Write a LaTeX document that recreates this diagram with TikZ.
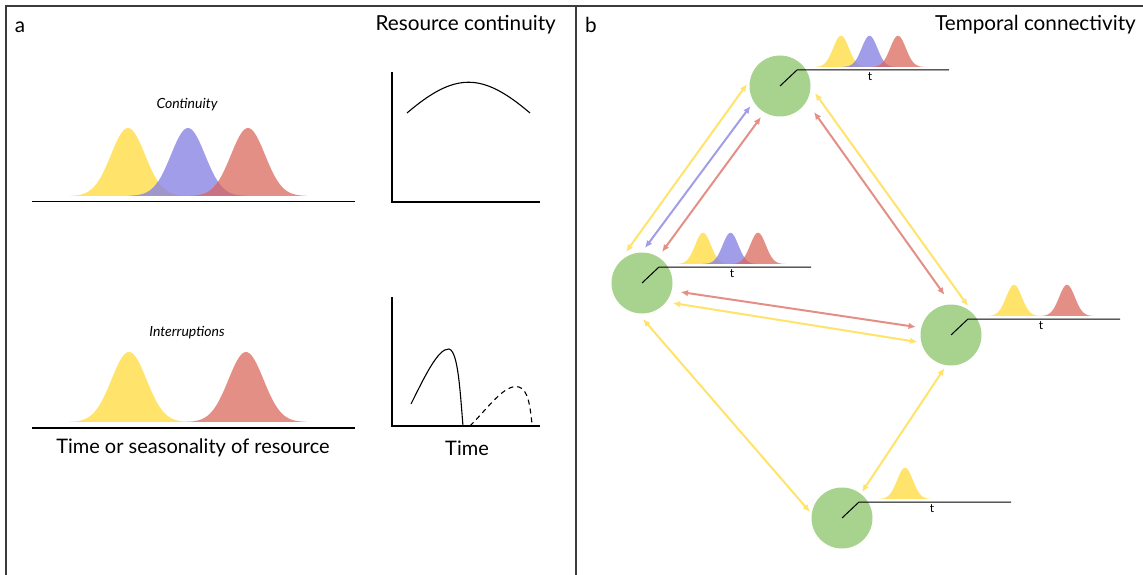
\documentclass[tikz,border=0pt]{standalone}
\usepackage{fontspec}
\setmainfont{Lato}
\usetikzlibrary{arrows.meta,calc}
\definecolor{yel}{RGB}{255,227,107}
\definecolor{blu}{RGB}{162,157,232}
\definecolor{rdd}{RGB}{228,143,134}
\definecolor{ovyb}{RGB}{160,150,200}
\definecolor{ovbr}{RGB}{201,114,130}
\definecolor{grn}{RGB}{168,211,143}
\definecolor{frame}{RGB}{60,60,60}
\newcommand\bump[5]{%
  \fill[#4, fill opacity=#5] plot[domain=-3.5:3.5, samples=60, smooth]
    ({#1+#3*17*\x},{#2-#3*68*exp(-(\x)*(\x)/2)}) -- cycle;}
\newcommand\bumpclip[3]{%
  \clip plot[domain=-3.5:3.5, samples=60, smooth]
    ({#1+#3*17*\x},{#2-#3*68*exp(-(\x)*(\x)/2)}) -- cycle;}
% three overlapping bumps: first centre, base, scale, spacing
\newcommand\trio[4]{%
  \bump{#1}{#2}{#3}{yel}{1}
  \bump{#1+#4}{#2}{#3}{blu}{1}
  \bump{#1+2*#4}{#2}{#3}{rdd}{1}
  \begin{scope}\bumpclip{#1}{#2}{#3}\bump{#1+#4}{#2}{#3}{ovyb}{1}\end{scope}
  \begin{scope}\bumpclip{#1+#4}{#2}{#3}\bump{#1+2*#4}{#2}{#3}{ovbr}{1}\end{scope}}
\tikzset{
  panel/.style={line width=1.1pt, draw=frame},
  axis/.style={line width=1.1pt, black},
  curve/.style={line width=1.1pt, black},
  site/.style={circle, fill=grn, minimum size=61pt, inner sep=0pt},
  tick/.style={line width=1pt, black},
  conn/.style={line width=2pt, {Latex[length=7.5pt,width=6.5pt]}-{Latex[length=7.5pt,width=6.5pt]}},
  big/.style={font=\fontsize{20}{24}\selectfont, inner sep=0pt},
  title/.style={font=\fontsize{20.7}{24}\selectfont, inner sep=0pt},
  small/.style={font=\fontsize{14}{16}\selectfont\itshape, inner sep=0pt},
  tlab/.style={font=\fontsize{12}{14}\selectfont, inner sep=0pt}
}
\begin{document}
\begin{tikzpicture}[x=1pt,y=-1pt]
\useasboundingbox (0,0) rectangle (1143,575);
% frames
\draw[panel] (6,575) -- (6,6) -- (1143,6);
\draw[panel] (576,6) -- (576,575);
% ---------- panel a ----------
\node[title] (la) at (20,27) {a};
\node[title, anchor=east] (ra) at (556,25) {Resource continuity};
\node[small] (cont) at (187,105) {Continuity};
\node[small] (intr) at (187,333) {Interruptions};
\node[big] (xl) at (193,448) {Time or seasonality of resource};
\node[big] (tl) at (467,448) {Time};
% continuity bumps
\trio{128}{196}{1}{60}
\draw[axis] (32,201.5) -- (355,201.5);
% interruption bumps
\bump{129}{422}{1.03}{yel}{1}
\bump{246}{422}{1.03}{rdd}{1}
\draw[axis] (32,428) -- (355,428);
% continuity graph
\draw[axis] (392,72) -- (392,202) -- (540,202);
\draw[curve] (407,113) .. controls (455,72) and (482,72) .. (530,113);
% interruption graph
\draw[axis] (392,297) -- (392,426) -- (540,426);
\draw[curve] (411,404) .. controls (424,378) and (438,348) .. (449,349)
  .. controls (458,351) and (460,390) .. (463,426);
\draw[curve, dash pattern=on 5pt off 4pt] (470,426) .. controls (488,408) and (505,383) .. (519,387)
  .. controls (528,390) and (530,405) .. (532,424);
% ---------- panel b ----------
\node[title] (lb) at (591,25) {b};
\node[title, anchor=east] (rb) at (1136,25) {Temporal connectivity};
\node[site] (T) at (780,86) {};
\node[site] (L) at (642,283) {};
\node[site] (R) at (951,335) {};
\node[site] (B) at (842,518) {};
% timelines
\foreach \n in {T,L,R,B}{
  \draw[tick] (\n.center) -- ++(17,-16) -- ++(152,0);
  \node[tlab] (t\n) at ($(\n.center)+(90,-9)$) {t};
}
% bumps
\trio{841}{67}{0.46}{28.5}
\trio{703}{264}{0.46}{27.5}
\bump{1014}{316}{0.46}{yel}{1}
\bump{1067}{316}{0.46}{rdd}{1}
\bump{905}{499}{0.46}{yel}{1}
% connectors
\draw[conn, yel] ([shift={(-16,-31)}]L.center) -- ([shift={(-33,-2)}]T.center);
\draw[conn, blu] ([shift={(3,-35)}]L.center) -- ([shift={(-29.5,20)}]T.center);
\draw[conn, rdd] ([shift={(20,-31)}]L.center) -- ([shift={(-19,31)}]T.center);
\draw[conn, yel] ([shift={(35,7)}]T.center) -- ([shift={(17,-29)}]R.center);
\draw[conn, rdd] ([shift={(34,26)}]T.center) -- ([shift={(-6.5,-40)}]R.center);
\draw[conn, rdd] ([shift={(38.5,9)}]L.center) -- ([shift={(-35,-8)}]R.center);
\draw[conn, yel] ([shift={(30.6,20)}]L.center) -- ([shift={(-33.5,7)}]R.center);
\draw[conn, yel] ([shift={(1,36)}]L.center) -- ([shift={(-32,-6)}]B.center);
\draw[conn, yel] ([shift={(-6.5,33)}]R.center) -- ([shift={(20,-26)}]B.center);
\end{tikzpicture}
\end{document}
